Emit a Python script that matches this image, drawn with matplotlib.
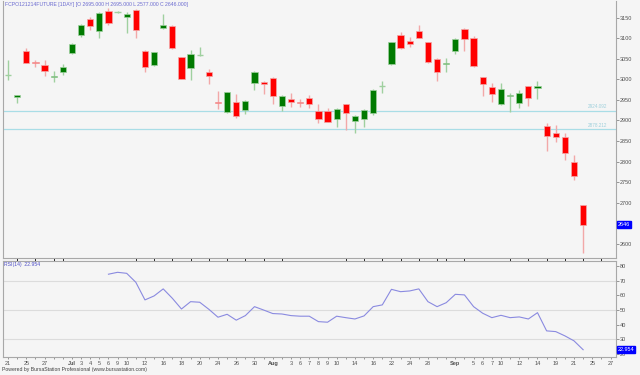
import matplotlib
matplotlib.use("Agg")
import matplotlib.pyplot as plt
import numpy as np

# ---------------- data ----------------
opens = [3010, 2957, 3068, 3043, 3035, 3006, 3017, 3065, 3109, 3148,
         3117, 3167, 3164, 3151, 3170, 3070, 3035, 3125, 3129, 3054,
         3029, 3060, 3017, 2945, 2920, 2946, 2926, 2991, 2993, 3004,
         2936, 2952, 2946, 2954, 2923, 2923, 2903, 2940, 2899, 2903,
         2917, 2984, 3037, 3109, 3094, 3117, 3091, 3050, 3037, 3068,
         3123, 3102, 3005, 2981, 2940, 2959, 2943, 2984, 2980, 2887,
         2869, 2859, 2800, 2695]
highs = [3047, 2963, 3077, 3047, 3047, 3021, 3038, 3088, 3135, 3153,
         3163, 3174, 3167, 3165, 3172, 3071, 3067, 3159, 3133, 3055,
         3072, 3078, 3025, 2972, 2970, 2965, 2949, 3021, 2995, 3006,
         2962, 2967, 2952, 2962, 2940, 2930, 2930, 2941, 2913, 2927,
         2976, 2995, 3091, 3115, 3104, 3133, 3092, 3051, 3052, 3101,
         3125, 3106, 3006, 2991, 2991, 2966, 2973, 2985, 2995, 2893,
         2889, 2870, 2816, 2695]
lows = [2999, 2943, 3040, 3031, 3009, 2993, 3011, 3063, 3104, 3121,
        3100, 3133, 3161, 3113, 3100, 3019, 3033, 3124, 3074, 3000,
        2999, 3058, 2989, 2928, 2919, 2906, 2915, 2974, 2965, 2940,
        2923, 2934, 2934, 2930, 2893, 2896, 2885, 2877, 2869, 2885,
        2914, 2966, 3035, 3074, 3078, 3100, 3040, 2995, 3019, 3061,
        3068, 3031, 2960, 2944, 2938, 2921, 2930, 2935, 2952, 2826,
        2848, 2804, 2755, 2577]
closes = [3010, 2962, 3041, 3041, 3021, 3008, 3030, 3086, 3133, 3129,
          3161, 3137, 3164, 3160, 3121, 3030, 3066, 3133, 3076, 3001,
          3062, 3060, 3009, 2943, 2969, 2912, 2948, 3019, 2989, 2960,
          2960, 2944, 2943, 2940, 2904, 2897, 2928, 2919, 2912, 2926,
          2974, 2984, 3090, 3076, 3086, 3102, 3042, 3017, 3040, 3099,
          3099, 3033, 2989, 2965, 2977, 2961, 2968, 2954, 2984, 2861,
          2859, 2820, 2765, 2646]

rsi_start = 11
rsi_values = [74.4, 75.7, 75.0, 68.9, 56.9, 59.6, 64.4, 58.0, 50.7, 55.7,
              55.3, 50.5, 45.1, 47.1, 43.1, 46.2, 52.3, 50.0, 47.6, 47.3,
              46.2, 45.8, 45.8, 42.1, 41.7, 45.8, 44.8, 43.9, 46.0, 52.3,
              53.5, 64.1, 62.5, 63.0, 64.4, 55.7, 52.3, 55.0, 60.7, 60.3,
              52.3, 47.8, 44.8, 46.4, 44.8, 45.3, 43.9, 48.2, 35.8, 35.3,
              32.4, 29.0, 22.954]

date_tick_pos = [0, 2, 4, 7, 8, 9, 10, 11, 12, 13, 15, 17, 19, 21, 23, 25, 27,
                 29, 31, 32, 33, 34, 35, 36, 38, 40, 42, 44, 46,
                 49, 51, 52, 53, 54, 56, 58, 60, 62, 64, 66]
date_tick_labels = ["21", "25", "27", "Jul", "3", "4", "5", "6", "9", "10", "12",
                    "16", "18", "20", "24", "26", "30", "Aug", "3", "6", "7", "8",
                    "9", "10", "14", "16", "22", "24", "28", "Sep", "5", "6", "7",
                    "10", "12", "14", "19", "21", "25", "27"]
month_labels = ["Jul", "Aug", "Sep"]

price_ticks = [2600, 2650, 2700, 2750, 2800, 2850, 2900, 2950, 3000, 3050, 3100, 3150]
rsi_ticks = [20, 30, 40, 50, 60, 70, 80]
rsi_grid = [30, 50, 70]
levels = [2924.092, 2878.212]
title = "FCPO121214FUTURE [1DAY] [O 2695.000 H 2695.000 L 2577.000 C 2646.000]"
last_close_label = "2646"
rsi_label = "RSI(14)  22.954"
last_rsi_label = "22.954"
footer = "Powered by BursaStation Professional (www.bursastation.com)"

# ---------------- style ----------------
plt.rcParams['font.family'] = ['Liberation Sans', 'DejaVu Sans']
FS = 4.0      # axis labels
FT = 3.7      # title / footer texts
BG = "#f5f5f5"
SPINE = "#a8a8a8"
UP = "#007a00"
UP_W = "#9fd09f"
DN = "#ff0000"
DN_W = "#f2a8a8"
LVL = "#a9dde6"

fig = plt.figure(figsize=(6.4, 3.75), dpi=100, facecolor=BG)
ax = fig.add_axes([3/640, 1 - 258/375, 613/640, 257/375], facecolor=BG)
ax2 = fig.add_axes([3/640, 1 - 357/375, 613/640, 96/375], facecolor=BG, sharex=ax)

n = len(opens)
x = np.arange(n)
o = np.array(opens, float); h = np.array(highs, float)
l = np.array(lows, float); c = np.array(closes, float)
up = c > o
dn = c < o
eq = c == o

# wicks
ax.vlines(x[up], l[up], h[up], color=UP_W, lw=1.0, zorder=2)
ax.vlines(x[eq], l[eq], h[eq], color=UP_W, lw=1.0, zorder=2)
ax.vlines(x[dn], l[dn], h[dn], color=DN_W, lw=1.0, zorder=2)
# bodies
W = 0.68
minh = 1.6
bh = np.maximum(np.abs(c - o), minh)
bb = np.minimum(o, c)
ax.bar(x[up], bh[up], W, bottom=bb[up], color=UP, edgecolor=UP_W, lw=0.5, zorder=3)
ax.bar(x[dn], bh[dn], W, bottom=bb[dn], color=DN, edgecolor=DN_W, lw=0.5, zorder=3)
ax.hlines(o[eq], x[eq] - W/2, x[eq] + W/2, color=UP_W, lw=1.0, zorder=3)

# levels
for lv in levels:
    ax.axhline(lv, color=LVL, lw=0.9, zorder=1)
    ax.text(65.7, lv + 4, f"{lv:.3f}", color="#9fd0dc", fontsize=FT - 0.4,
            ha="right", va="bottom", zorder=4)

ax.set_xlim(-0.55, 66.6)
ax.set_ylim(2565, 3191)
ax2.set_ylim(18, 83.4)

# RSI
rx = np.arange(rsi_start, rsi_start + len(rsi_values))
for g in rsi_grid:
    ax2.axhline(g, color="#dcdcdc", lw=0.8, zorder=1)
ax2.plot(rx, rsi_values, color="#8a8ae0", lw=0.8, zorder=3)

for a in (ax, ax2):
    for s in a.spines.values():
        s.set_color(SPINE)
        s.set_linewidth(0.8)
    a.yaxis.tick_right()
    a.tick_params(axis="y", direction="out", length=2, width=0.5, colors="#707070",
                  labelsize=FS, pad=1, labelcolor="#505050")
ax.spines['top'].set_visible(False)

ax.set_yticks(price_ticks)
ax.set_yticklabels([str(t) for t in price_ticks])
ax2.set_yticks(rsi_ticks)
ax2.set_yticklabels([str(t) for t in rsi_ticks])

ax.tick_params(axis="x", bottom=False, labelbottom=False)
ax2.set_xticks(date_tick_pos)
ax2.set_xticklabels(date_tick_labels)
ax2.set_xticks(np.arange(0, 67), minor=True)
ax2.tick_params(axis="x", which="both", direction="out", length=1.5, width=0.5,
                colors="#707070", labelsize=FS, pad=1.5, labelcolor="#505050")
for t in ax2.get_xticklabels():
    if t.get_text() in month_labels:
        t.set_fontweight("bold")

# last value boxes
ax.text(1.003, c[-1], last_close_label, transform=ax.get_yaxis_transform(),
        fontsize=FS, color="white", va="center", ha="left", zorder=6,
        bbox=dict(boxstyle="square,pad=0.15", fc="#0000ff", ec="#0000ff"), clip_on=False)
ax2.text(1.003, rsi_values[-1], last_rsi_label, transform=ax2.get_yaxis_transform(),
         fontsize=FS, color="white", va="center", ha="left", zorder=6,
         bbox=dict(boxstyle="square,pad=0.15", fc="#0000ff", ec="#0000ff"), clip_on=False)

# titles
ax.text(0.004, 0.997, title, transform=ax.transAxes, fontsize=FT, color="#6a6ad0",
        ha="left", va="top")
ax2.text(0.002, 0.985, rsi_label, transform=ax2.transAxes, fontsize=FT, color="#5050c8",
         ha="left", va="top")
fig.text(2/640, 1 - 370/375, footer, fontsize=FT, color="#404040", ha="left", va="center")

fig.savefig("out.png", dpi=100, facecolor=BG)
